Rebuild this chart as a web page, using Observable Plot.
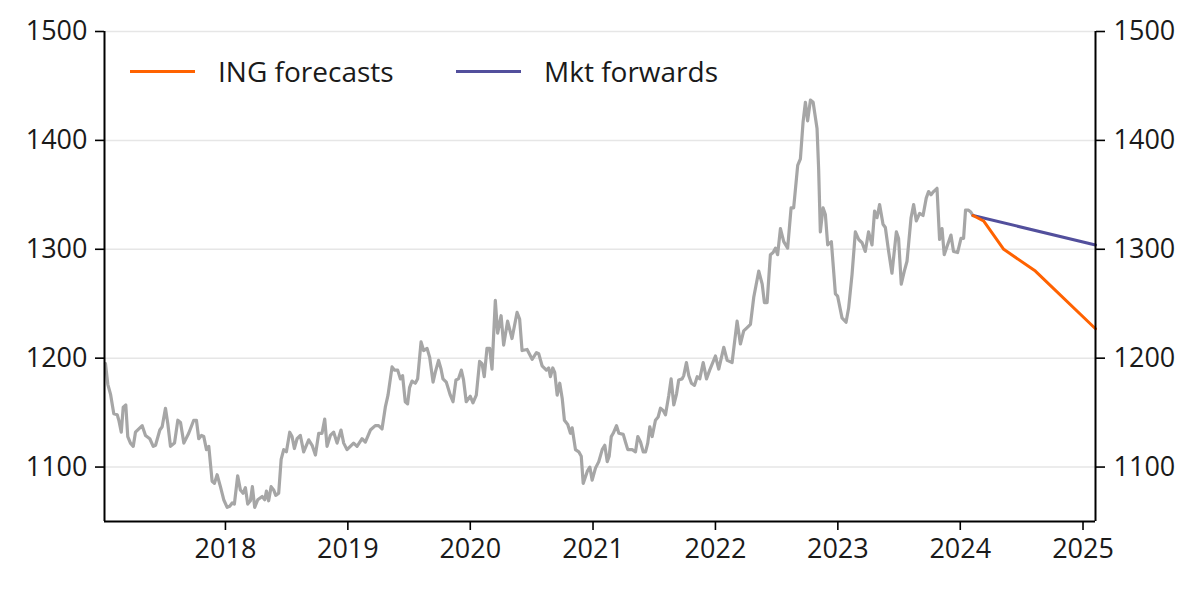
<!DOCTYPE html>
<html>
<head>
<meta charset="utf-8">
<script src="https://cdn.jsdelivr.net/npm/d3@7"></script>
<script src="https://cdn.jsdelivr.net/npm/@observablehq/plot@0.6"></script>
<style>
  html, body { margin: 0; padding: 0; background: #fff; }
  #wrap { position: relative; width: 1200px; height: 589px; font-family: "Open Sans", "Noto Sans", sans-serif; }
  #legend { position: absolute; left: 0; top: 0; width: 1200px; height: 589px; pointer-events: none; }
  .item { position: absolute; top: 52px; display: flex; align-items: center; font-size: 28px; color: #1a1a1a; }
  .sw { display: inline-block; width: 65px; height: 3px; margin-right: 23px; }
</style>
</head>
<body>
<div id="wrap">
  <div id="chart"></div>
  <div id="legend"></div>
</div>
<script>
// Historical weekly series (decimal year, value)
const spotT = [2017.020,2017.039,2017.061,2017.088,2017.116,2017.129,2017.149,2017.165,2017.186,2017.202,2017.224,2017.247,2017.265,2017.320,2017.347,2017.382,2017.410,2017.429,2017.464,2017.483,2017.510,2017.529,2017.551,2017.584,2017.611,2017.633,2017.660,2017.700,2017.741,2017.763,2017.782,2017.804,2017.823,2017.845,2017.864,2017.891,2017.910,2017.932,2017.959,2017.986,
2018.014,2018.035,2018.055,2018.073,2018.100,2018.122,2018.144,2018.163,2018.182,2018.204,2018.220,2018.239,2018.264,2018.300,2018.321,2018.335,2018.353,2018.373,2018.394,2018.411,2018.435,2018.455,2018.476,2018.498,2018.525,2018.544,2018.563,2018.585,2018.612,2018.639,2018.680,2018.708,2018.735,2018.762,2018.789,2018.811,2018.830,2018.857,2018.884,2018.912,2018.944,2018.966,2018.993,
2019.020,2019.047,2019.075,2019.116,2019.143,2019.184,2019.224,2019.251,2019.279,2019.306,2019.328,2019.361,2019.382,2019.407,2019.429,2019.447,2019.469,2019.488,2019.504,2019.524,2019.551,2019.570,2019.598,2019.619,2019.647,2019.668,2019.696,2019.714,2019.741,2019.761,2019.777,2019.804,2019.837,2019.859,2019.883,2019.904,2019.927,2019.945,2019.967,
2020.000,2020.022,2020.049,2020.076,2020.096,2020.114,2020.136,2020.158,2020.177,2020.204,2020.223,2020.251,2020.272,2020.304,2020.340,2020.381,2020.402,2020.422,2020.463,2020.504,2020.539,2020.558,2020.585,2020.620,2020.639,2020.653,2020.672,2020.688,2020.708,2020.729,2020.749,2020.767,2020.794,2020.816,2020.830,2020.857,2020.884,2020.904,2020.920,2020.953,2020.974,2020.993,
2021.020,2021.047,2021.075,2021.096,2021.116,2021.132,2021.149,2021.165,2021.192,2021.211,2021.247,2021.265,2021.284,2021.320,2021.347,2021.366,2021.388,2021.410,2021.429,2021.447,2021.464,2021.483,2021.510,2021.532,2021.551,2021.573,2021.592,2021.619,2021.638,2021.660,2021.682,2021.700,2021.728,2021.741,2021.763,2021.782,2021.804,2021.829,2021.851,2021.872,2021.900,2021.927,2021.953,
2022.000,2022.027,2022.068,2022.096,2022.136,2022.177,2022.204,2022.231,2022.259,2022.286,2022.313,2022.354,2022.382,2022.400,2022.422,2022.449,2022.471,2022.490,2022.508,2022.531,2022.558,2022.590,2022.618,2022.639,2022.672,2022.694,2022.716,2022.735,2022.753,2022.776,2022.798,2022.830,2022.843,2022.857,2022.879,2022.898,2022.917,2022.947,2022.980,2022.998,
2023.034,2023.067,2023.088,2023.116,2023.143,2023.170,2023.198,2023.224,2023.251,2023.279,2023.300,2023.320,2023.341,2023.369,2023.388,2023.415,2023.442,2023.478,2023.496,2023.518,2023.543,2023.565,2023.598,2023.619,2023.641,2023.668,2023.696,2023.722,2023.741,2023.761,2023.782,2023.810,2023.831,2023.851,2023.869,2023.896,2023.924,2023.945,2023.978,
2024.006,2024.027,2024.043,2024.067,2024.087,2024.104];
const spotV = [1195,1176,1167,1149,1148,1143,1132,1155,1157,1128,1122,1119,1132,1138,1129,1126,1119,1120,1134,1137,1154,1140,1119,1122,1143,1141,1122,1131,1143,1143,1126,1129,1128,1116,1119,1087,1085,1093,1082,1070,
1063,1064,1067,1066,1092,1079,1076,1081,1066,1069,1082,1063,1070,1073,1070,1078,1069,1082,1079,1074,1076,1107,1116,1114,1132,1128,1117,1126,1129,1114,1125,1120,1111,1131,1131,1144,1119,1129,1132,1122,1134,1122,1116,
1119,1122,1119,1126,1123,1134,1138,1138,1135,1155,1166,1192,1189,1189,1181,1184,1160,1158,1173,1179,1177,1181,1215,1207,1209,1201,1178,1187,1198,1190,1181,1178,1166,1160,1180,1181,1189,1180,1160,
1165,1159,1166,1197,1195,1183,1209,1209,1190,1253,1223,1239,1212,1234,1218,1242,1236,1207,1208,1199,1205,1204,1193,1189,1191,1183,1191,1187,1166,1177,1163,1143,1139,1131,1136,1116,1114,1110,1085,1096,1100,1088,
1099,1105,1116,1120,1105,1110,1128,1131,1138,1131,1130,1123,1116,1116,1114,1128,1123,1114,1114,1122,1137,1128,1143,1146,1154,1152,1148,1166,1181,1157,1167,1180,1181,1184,1196,1184,1177,1175,1183,1181,1196,1181,1189,
1202,1190,1210,1198,1196,1234,1213,1225,1228,1231,1256,1280,1268,1251,1251,1295,1297,1301,1295,1319,1307,1301,1338,1338,1377,1383,1417,1435,1418,1437,1435,1411,1374,1316,1338,1332,1304,1307,1259,1257,
1237,1233,1246,1277,1316,1309,1306,1298,1316,1304,1335,1329,1341,1323,1320,1298,1278,1316,1310,1268,1280,1289,1329,1341,1326,1333,1331,1347,1353,1350,1353,1356,1309,1319,1295,1304,1313,1298,1297,
1310,1310,1336,1336,1334,1331];

// ING forecasts
const ingT = [2024.104, 2024.190, 2024.354, 2024.612, 2025.102];
const ingV = [1331, 1326, 1300, 1280, 1227];
// Market forwards
const mktT = [2024.104, 2025.102];
const mktV = [1331, 1304];

const yTicks = [1100, 1200, 1300, 1400, 1500];
const xTickYears = [2018, 2019, 2020, 2021, 2022, 2023, 2024, 2025];
const xDomainT = [2017.012, 2025.102];
const yDomain = [1050, 1500];

const legendItems = [
  {label: "ING forecasts", color: "#ff6200"},
  {label: "Mkt forwards", color: "#524f9c"}
];

function toDate(t) {
  const y = Math.floor(t);
  const a = Date.UTC(y, 0, 1), b = Date.UTC(y + 1, 0, 1);
  return new Date(a + (t - y) * (b - a));
}

const spot = spotT.map((t, i) => ({date: toDate(t), value: spotV[i]}));
const ing = ingT.map((t, i) => ({date: toDate(t), value: ingV[i]}));
const mkt = mktT.map((t, i) => ({date: toDate(t), value: mktV[i]}));
const xTicks = xTickYears.map(y => new Date(Date.UTC(y, 0, 1)));
const xDomain = xDomainT.map(toDate);

const axisStyle = {fontSize: 27, tickSize: 9, stroke: "#000", strokeWidth: 1.6, fill: "#1a1a1a", label: null};

const chart = Plot.plot({
  width: 1200,
  height: 589,
  marginLeft: 104,
  marginRight: 105,
  marginTop: 31,
  marginBottom: 68,
  style: {fontFamily: "'Open Sans', 'Noto Sans', sans-serif", background: "#fff", overflow: "visible"},
  x: {type: "utc", domain: xDomain, label: null},
  y: {domain: yDomain, label: null},
  marks: [
    Plot.gridY(yTicks, {stroke: "#e6e6e6", strokeOpacity: 1, strokeWidth: 1.5}),
    Plot.lineY(spot, {x: "date", y: "value", stroke: "#a6a6a6", strokeWidth: 3.2, strokeLinejoin: "round"}),
    Plot.lineY(mkt, {x: "date", y: "value", stroke: "#524f9c", strokeWidth: 3}),
    Plot.lineY(ing, {x: "date", y: "value", stroke: "#ff6200", strokeWidth: 3}),
    Plot.ruleX(xDomain, {stroke: "#000", strokeWidth: 2}),
    Plot.ruleY([yDomain[0]], {stroke: "#000", strokeWidth: 2}),
    Plot.axisY(yTicks, {anchor: "left", tickFormat: d3.format("d"), tickPadding: 8, ...axisStyle}),
    Plot.axisY(yTicks, {anchor: "right", tickFormat: d3.format("d"), tickPadding: 9, ...axisStyle}),
    Plot.axisX(xTicks, {anchor: "bottom", tickFormat: d3.utcFormat("%Y"), tickPadding: 8, ...axisStyle})
  ]
});
document.getElementById("chart").appendChild(chart);

const legend = document.getElementById("legend");
const lefts = [130, 456];
legendItems.forEach((it, i) => {
  const d = document.createElement("div");
  d.className = "item";
  d.style.left = lefts[i] + "px";
  const sw = document.createElement("span");
  sw.className = "sw";
  sw.style.background = it.color;
  const tx = document.createElement("span");
  tx.textContent = it.label;
  d.appendChild(sw);
  d.appendChild(tx);
  legend.appendChild(d);
});
</script>
</body>
</html>
